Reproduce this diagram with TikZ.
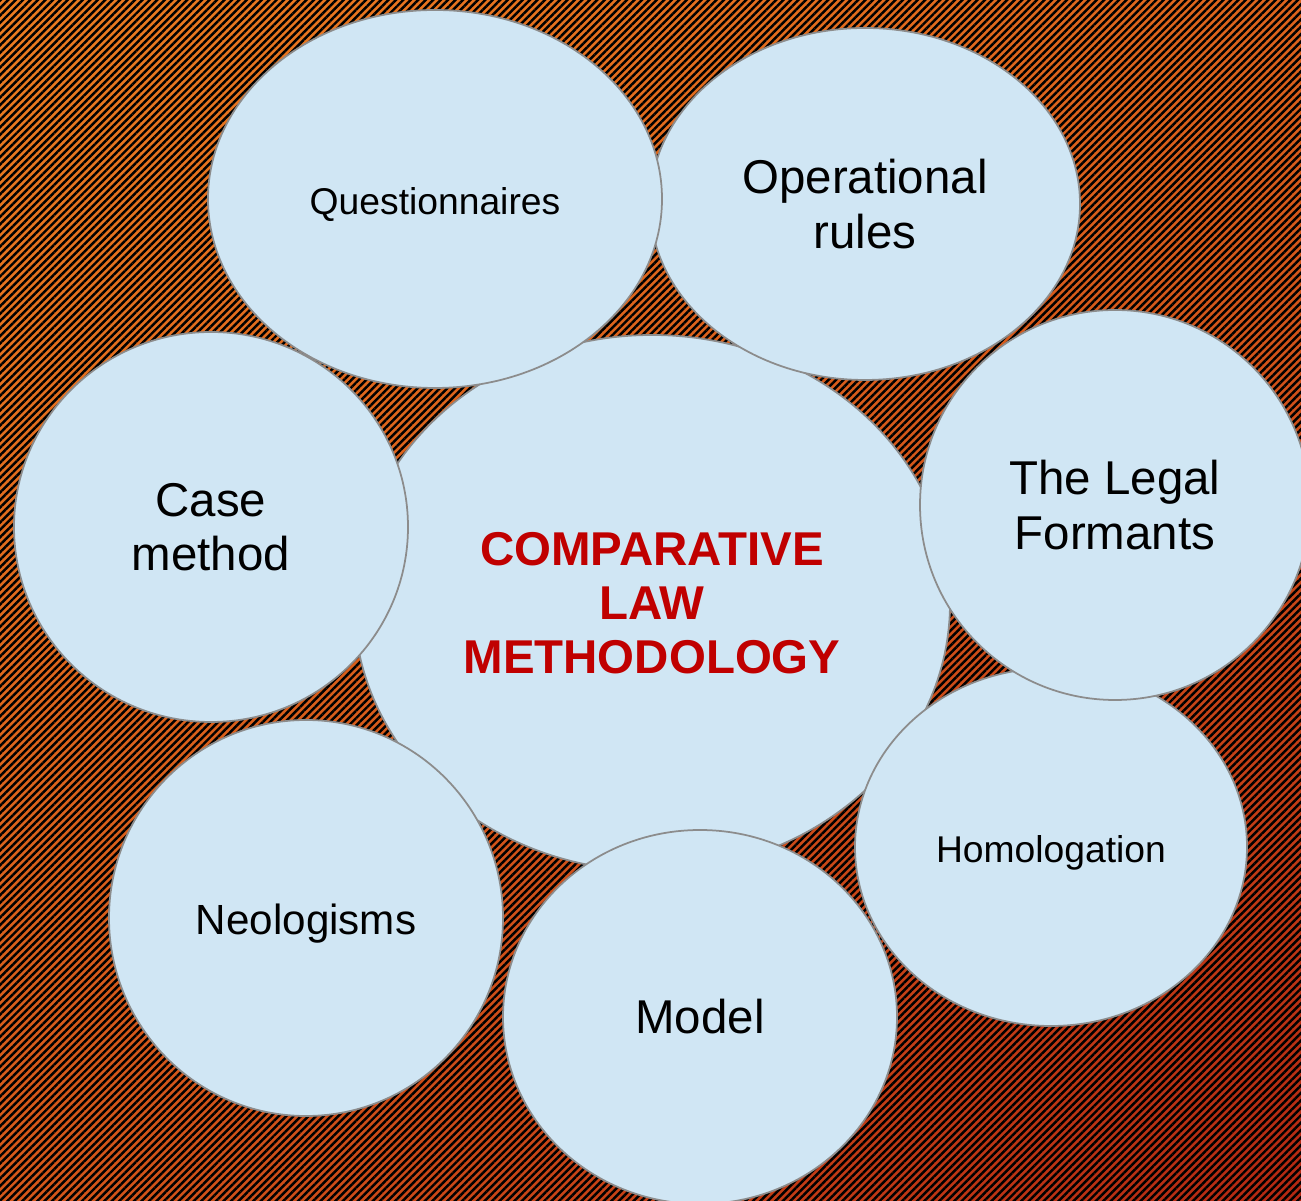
\documentclass[tikz,border=0pt]{standalone}
\usepackage{fontspec}
\setmainfont{Liberation Sans}
\usetikzlibrary{patterns.meta,shadings,shapes.geometric}
\definecolor{cmorange}{HTML}{EC7C20}
\definecolor{cmamber}{HTML}{DE641C}
\definecolor{cmrust}{HTML}{D6581A}
\definecolor{cmbrick}{HTML}{B42812}
\definecolor{cmbubble}{HTML}{D0E6F4}
\definecolor{cmline}{HTML}{8C8C8C}
\definecolor{cmred}{HTML}{C00000}
\tikzset{
  bubble/.style={
    ellipse,
    draw=cmline,
    fill=cmbubble,
    line width=.5pt,
    inner sep=0pt,
    align=center,
    font=\fontsize{13.5}{15.4}\selectfont
  },
  smallbubble/.style={
    bubble,
    text height=3.8mm,
    font=\fontsize{10.6}{12.5}\selectfont
  },
  midbubble/.style={
    bubble,
    text height=4.1mm,
    font=\fontsize{12}{14}\selectfont
  },
  hubbubble/.style={
    bubble,
    text=cmred,
    font=\bfseries\fontsize{13.5}{15.4}\selectfont
  }
}

\begin{document}
\begin{tikzpicture}[x=0.1mm, y=-0.1mm]
  \useasboundingbox (0,0) rectangle (1301,1201);
  \clip (0,0) rectangle (1301,1201);

  % hatched background
  \shade[upper left=cmorange, upper right=cmamber, lower left=cmrust,
         lower right=cmbrick] (0,0) rectangle (1301,1201);
  \fill[pattern={Lines[angle=45,distance=1.5pt,line width=.7pt]},
        pattern color=black] (0,0) rectangle (1301,1201);

  \node[hubbubble, minimum width=59.6mm, minimum height=53.6mm] (hub) at (652,603)
    {COMPARATIVE\\LAW\\METHODOLOGY};

  \node[smallbubble, minimum width=39.2mm, minimum height=35.8mm] (homol) at (1051,847)
    {Homologation};
  \node[bubble, minimum width=39mm, minimum height=39mm] (formants) at (1115,505)
    {The Legal\\Formants};
  \node[bubble, minimum width=43mm, minimum height=35.2mm] (oprules) at (865,204)
    {Operational\\rules};
  \node[smallbubble, minimum width=45.4mm, minimum height=37.8mm] (quest) at (435,199)
    {Questionnaires};
  \node[bubble, minimum width=39.4mm, minimum height=39mm] (casemeth) at (211,527)
    {Case\\method};
  \node[midbubble, minimum width=39.4mm, minimum height=39.6mm] (neolog) at (306,918)
    {Neologisms};
  \node[bubble, minimum width=39.4mm, minimum height=37.4mm] (model) at (700,1017)
    {Model};
\end{tikzpicture}
\end{document}
